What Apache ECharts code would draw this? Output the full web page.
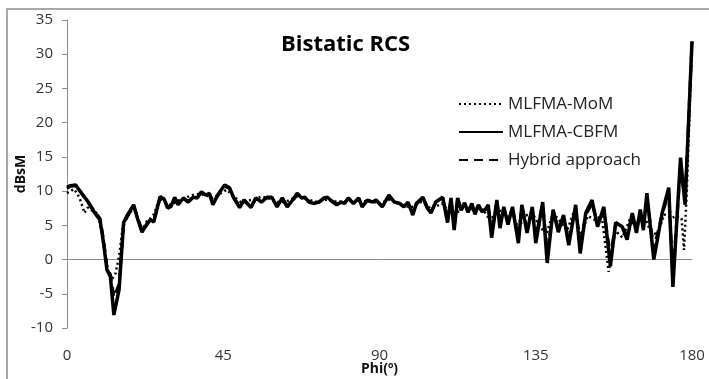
<!DOCTYPE html>
<html>
<head>
<meta charset="UTF-8">
<title>Bistatic RCS</title>
<script type="text/javascript" src="https://cdn.jsdelivr.net/npm/echarts@6/dist/echarts.min.js"></script>
</head>
<body style="margin:0">
	<div id="main" style="height:379px;width:709px"></div>
<script type="text/javascript">
var xTicks = [0, 45, 90, 135, 180];

// MLFMA-CBFM (solid)
var cbfmPhi = [0, 1, 2.5, 4, 6, 8, 9.5, 10.5, 11.5, 12.5, 13.5, 15, 16.3, 17.5, 19.2, 20.3, 21.6, 23, 24, 25, 26.8, 28, 29, 30,
  31, 32, 33.5, 34.9, 36.3, 37.5, 38.7, 40, 41, 42, 43.5, 45.4, 46.8, 48, 49.7, 51, 53, 54.4, 56, 57.6, 59, 60.5,
  62, 63.4, 65, 66.3, 67.5, 68.5, 69.7, 71, 72.6, 74, 75, 76.5, 77.7, 79, 80, 81, 82.5, 84, 85, 86.5, 88, 89,
  90.8, 92.7, 94.3, 95.8, 97, 98.2, 99.6, 100.6, 102.5, 103.8, 104.8, 106.2, 108.2, 109.6, 110.6, 111.5, 112.5,
  113.5, 114.5, 115.5, 116.6, 117.5, 118.5, 119.5, 120.5, 121.3, 122.3, 123.8, 124.7, 125.8, 127, 128.3, 130, 131, 132.5, 134,
  135, 137, 138.3, 140, 141.5, 143, 144.5, 146.5, 147.8, 149.4, 151.2, 152.8, 154.6, 156.5, 158, 159.9, 161.3,
  162.8, 164, 165.1, 166, 167, 169, 171.4, 173.3, 174.5, 176.7, 178, 180];
var cbfmVal = [10.6, 10.8, 10.9, 9.8, 8.5, 6.8, 5.8, 2.5, -1.5, -2.5, -8.1, -4.4, 5.4, 6.6, 8.0, 6.0, 4.0, 5.2, 5.8, 5.5, 9.2, 8.8, 7.5, 7.8,
  9.1, 8.0, 9.0, 8.4, 9.1, 9.0, 9.9, 9.4, 9.7, 8.0, 9.5, 10.9, 10.5, 9.0, 7.6, 8.7, 7.6, 9.0, 8.4, 9.1, 9.1, 7.7,
  9.0, 7.7, 8.7, 9.7, 9.0, 9.1, 8.4, 8.2, 8.4, 9.0, 9.1, 8.4, 8.0, 8.4, 8.2, 9.0, 8.2, 9.0, 7.7, 8.7, 8.4, 8.7,
  7.7, 9.4, 8.4, 8.2, 7.7, 8.4, 6.5, 8.2, 9.1, 7.5, 6.8, 8.4, 9.1, 5.4, 9.0, 4.3, 9.0,
  7.2, 8.3, 6.9, 8.2, 6.6, 8.0, 7.0, 7.3, 8.0, 3.2, 8.7, 4.6, 7.7, 5.1, 7.7, 2.4, 8.0, 3.9, 7.7,
  2.4, 8.4, -0.5, 7.3, 4.0, 6.5, 2.1, 8.0, 0.9, 6.8, 8.7, 4.8, 7.7, -1.0, 5.4, 4.8, 2.9,
  6.8, 3.9, 7.3, 4.3, 9.7, 0.0, 6.8, 10.5, -4.0, 14.9, 8.0, 31.9];

// Hybrid approach (dashed), same angles as CBFM
var hybridVal = [10.4, 10.7, 10.8, 9.9, 8.4, 7.0, 6.0, 3.0, -1.0, -2.2, -5.5, -3.6, 5.0, 6.4, 7.8, 6.2, 4.3, 5.0, 5.9, 5.7, 9.0, 8.7, 7.7, 7.9,
  9.0, 8.2, 8.9, 8.5, 9.0, 9.1, 9.8, 9.5, 9.6, 8.2, 9.4, 10.7, 10.4, 9.1, 7.8, 8.6, 7.8, 8.9, 8.5, 9.0, 9.0, 7.9,
  8.9, 7.8, 8.6, 9.5, 9.0, 9.0, 8.5, 8.3, 8.4, 8.9, 9.0, 8.5, 8.1, 8.4, 8.3, 8.9, 8.3, 8.9, 7.8, 8.6, 8.4, 8.6,
  7.8, 9.2, 8.4, 8.2, 7.8, 8.3, 6.8, 8.1, 9.0, 7.6, 7.0, 8.3, 9.0, 5.8, 8.8, 4.8, 8.8,
  7.4, 8.1, 7.1, 8.0, 6.9, 7.8, 7.1, 7.3, 7.9, 3.9, 8.4, 5.2, 7.5, 5.6, 7.4, 3.2, 7.7, 4.6, 7.4,
  3.4, 8.0, 1.2, 7.0, 4.6, 6.2, 3.0, 7.6, 2.0, 6.5, 8.2, 5.2, 7.2, 0.5, 5.2, 4.6, 3.6,
  6.5, 4.4, 7.0, 4.8, 8.9, 1.6, 6.6, 9.8, -2.4, 13.6, 8.4, 31.8];

// MLFMA-MoM (dotted)
var momPhi = [0, 1, 2, 3, 4, 5, 6, 7, 8, 9, 10, 11, 12, 13, 14, 15, 16, 17, 18, 19, 20, 21, 22, 23, 24, 25, 26, 27, 28, 30,
  32, 34, 36, 38, 40, 42, 44, 46, 48, 50, 52, 54, 56, 58, 60, 63, 66, 69, 72, 75, 78, 81, 84, 87, 90, 93, 96, 99,
  102, 105, 108, 110, 112, 114, 116, 118, 120, 122, 124, 126, 128, 130, 132, 134, 136, 138, 140, 142, 144, 146,
  148, 150, 152, 154, 156, 158, 160, 162, 164, 166, 168, 170, 172, 174, 175.5, 177, 177.7, 178.5, 180];
var momVal = [9.7, 10.0, 10.3, 9.6, 8.5, 6.8, 7.6, 7.2, 7.0, 6.6, 3.8, 0.5, -2.0, -2.8, -2.0, 0.5, 4.5, 6.0, 6.6, 7.6, 6.8, 5.0, 4.6, 5.6, 6.0, 6.6, 8.0, 9.0, 8.4, 8.0,
  8.6, 9.0, 9.4, 9.6, 9.4, 9.0, 9.6, 10.2, 9.2, 8.4, 8.6, 8.8, 9.2, 9.0, 8.4, 8.4, 9.2, 8.8, 8.4, 8.8, 8.4, 8.6, 8.4, 8.6, 8.2, 8.8, 8.0, 7.6,
  8.4, 7.4, 8.2, 7.0, 6.8, 7.4, 7.2, 7.6, 7.2, 5.6, 7.6, 6.2, 7.0, 4.6, 6.4, 6.8, 5.0, 3.6, 6.8, 5.6, 4.2, 7.0,
  3.6, 6.4, 5.8, 6.4, -1.8, 4.2, 3.2, 5.8, 4.6, 6.6, 4.2, 3.6, 6.6, 6.0, 6.4, 6.0, 1.4, 10.0, 31.5];

function zip(xs, ys) {
  var out = [];
  for (var i = 0; i < xs.length; i++) out.push([xs[i], ys[i]]);
  return out;
}

var myChart = echarts.init(document.getElementById('main'));
var font = 'Open Sans';

option = {
  backgroundColor: '#fff',
  animation: false,
  title: {
    text: 'Bistatic RCS',
    left: 276,
    top: 29,
    textStyle: { fontFamily: font, fontWeight: 'bold', fontSize: 22, color: '#000' }
  },
  legend: {
    orient: 'vertical',
    left: 453,
    top: 90,
    itemWidth: 44,
    itemHeight: 14,
    itemGap: 10,
    itemStyle: { opacity: 0 },
    textStyle: { fontFamily: font, fontSize: 17, color: '#222', lineHeight: 18 },
    data: ['MLFMA-MoM', 'MLFMA-CBFM', 'Hybrid approach']
  },
  graphic: [{
    type: 'rect',
    shape: { x: 7, y: 9, width: 760, height: 420 },
    style: { fill: 'none', stroke: '#8c8c8c', lineWidth: 1.5 },
    silent: true
  }],
  grid: { left: 67, right: 17, top: 20, bottom: 51, outerBoundsMode: 'none' },
  xAxis: {
    type: 'value',
    min: 0,
    max: 180,
    interval: 45,
    name: 'Phi(º)',
    nameLocation: 'middle',
    nameGap: 34,
    nameMoveOverlap: false,
    nameTextStyle: { fontFamily: font, fontWeight: 'bold', fontSize: 14, color: '#111' },
    axisLine: { lineStyle: { color: '#8c8c8c', width: 1 } },
    axisTick: { show: false },
    splitLine: { show: false },
    axisLabel: {
      margin: 20,
      fontFamily: font,
      fontSize: 15,
      color: '#333',
      formatter: function (v) { return xTicks.indexOf(v) >= 0 ? String(v) : ''; }
    }
  },
  yAxis: {
    type: 'value',
    min: -10,
    max: 35,
    interval: 5,
    name: 'dBsM',
    nameLocation: 'middle',
    nameGap: 39,
    nameMoveOverlap: false,
    nameTextStyle: { fontFamily: font, fontWeight: 'bold', fontSize: 14, color: '#111' },
    axisLine: { show: true, lineStyle: { color: '#8c8c8c', width: 1 } },
    axisTick: { show: true, length: 5, lineStyle: { color: '#8c8c8c' } },
    splitLine: { show: false },
    axisLabel: { margin: 14, fontFamily: font, fontSize: 15, color: '#333' }
  },
  series: [
    {
      name: 'MLFMA-MoM',
      type: 'line',
      symbol: 'none',
      data: zip(momPhi, momVal),
      lineStyle: { color: '#000', width: 2.5, type: [2, 3] },
      itemStyle: { color: '#000' }
    },
    {
      name: 'MLFMA-CBFM',
      type: 'line',
      symbol: 'none',
      data: zip(cbfmPhi, cbfmVal),
      lineStyle: { color: '#000', width: 3.5, type: 'solid' },
      itemStyle: { color: '#000' }
    },
    {
      name: 'Hybrid approach',
      type: 'line',
      symbol: 'none',
      data: zip(cbfmPhi, hybridVal),
      lineStyle: { color: '#000', width: 3, type: [9, 6] },
      itemStyle: { color: '#000' }
    }
  ]
};
myChart.setOption(option);
</script>
</body>
</html>
